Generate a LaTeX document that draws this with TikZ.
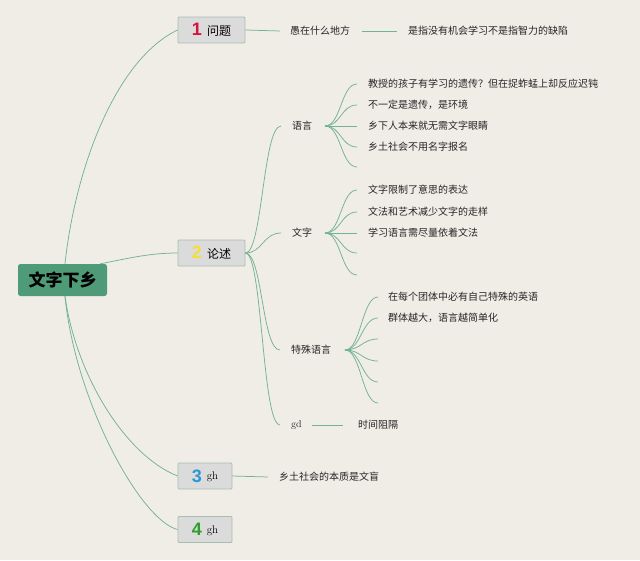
\documentclass[tikz,border=0pt]{standalone}
\usepackage{fontspec}
\newfontfamily\cjk{Noto Sans CJK SC}
\newfontfamily\numf{Liberation Sans}
\definecolor{bg}{HTML}{F0EDE7}
\definecolor{lnk}{HTML}{74B294}
\definecolor{rootg}{HTML}{4F9A77}
\definecolor{boxf}{HTML}{DADBDA}
\definecolor{boxd}{HTML}{A9BEB3}
\definecolor{nA}{HTML}{D4143C}
\definecolor{nB}{HTML}{F3DE3C}
\definecolor{nC}{HTML}{2A98D8}
\definecolor{nD}{HTML}{2C9F2C}
\begin{document}
\begin{tikzpicture}[x=1pt,y=-1pt,
  link/.style={draw=lnk,line width=0.75pt},
  rootbox/.style={fill=rootg,rounded corners=2.5pt,minimum width=89pt,minimum height=32pt,inner sep=0pt,font=\cjk\bfseries\fontsize{17}{20}\selectfont,text=black},
  topicbox/.style={fill=boxf,draw=boxd,line width=0.9pt,rounded corners=1pt,minimum height=26pt,inner sep=0pt,font=\cjk\fontsize{12}{14}\selectfont},
  leaf/.style={anchor=west,inner sep=0pt,font=\cjk\fontsize{10}{12}\selectfont,text=black!85},
  latin/.style={anchor=west,inner sep=0pt,font=\fontsize{10}{12}\selectfont,text=black!85}
]
\fill[bg] (0,0) rectangle (640,560);
\useasboundingbox (0,0) rectangle (640,560);
\newcommand{\numtag}[2]{{\numf\bfseries\fontsize{18}{20}\selectfont\textcolor{#1}{#2}}\hspace{5pt}}
\newcommand{\ghtext}{\raisebox{2.5pt}{\rmfamily\fontsize{11}{13}\selectfont gh}}

% main nodes
\node[rootbox] (root) at (62.5,280) {文字下乡};
\node[topicbox,minimum width=67pt] (b1) at (211.5,30) {\numtag{nA}{1}问题};
\node[topicbox,minimum width=67pt] (b2) at (211.5,253) {\numtag{nB}{2}论述};
\node[topicbox,minimum width=54pt] (b3) at (205,476) {\numtag{nC}{3}\ghtext};
\node[topicbox,minimum width=54pt] (b4) at (205,529.5) {\numtag{nD}{4}\ghtext};

% root connectors
\draw[link] ([xshift=2.5pt]root.north) .. controls (75,170) and (115,60) .. (b1.west);
\draw[link] ([xshift=-7pt]root.north east) .. controls (130,258) and (150,253) .. (b2.west);
\draw[link] ([xshift=2.5pt]root.south) .. controls (76,375) and (125,455) .. (b3.west);
\draw[link] ([xshift=2.5pt]root.south) .. controls (75,400) and (140,520) .. (b4.west);

% branch 1
\node[leaf] (yu) at (290,31) {愚在什么地方};
\node[leaf] (shi) at (408,31) {是指没有机会学习不是指智力的缺陷};
\draw[link] (b1.east) -- ([xshift=-10pt]yu.west);
\draw[link] ([xshift=12pt]yu.east) -- ([xshift=-11pt]shi.west);

% branch 2 children
\node[leaf] (yy) at (292,126) {语言};
\node[leaf] (wz) at (292,233) {文字};
\node[leaf] (ts) at (291,350) {特殊语言};
\node[latin] (gd) at (291,425) {gd};
\foreach \t in {yy,wz,ts,gd}{
  \draw[link] (b2.east) .. controls +(17,0) and +(-18,0) .. ([xshift=-11pt]\t.west);
}

% 语言 leaves
\coordinate (oy) at (325,126);
\node[leaf] (y1) at (368,84) {教授的孩子有学习的遗传？但在捉蚱蜢上却反应迟钝};
\node[leaf] (y2) at (368,105) {不一定是遗传，是环境};
\node[leaf] (y3) at (368,126) {乡下人本来就无需文字眼睛};
\node[leaf] (y4) at (368,147) {乡土社会不用名字报名};
\coordinate (y5) at (357,167);
\foreach \t in {y1,y2,y3,y4}{
  \draw[link] (oy) .. controls +(16,0) and +(-16,0) .. ([xshift=-11pt]\t.west);
}
\draw[link] (oy) .. controls +(16,0) and +(-16,0) .. (y5);

% 文字 leaves
\coordinate (ow) at (325,233);
\node[leaf] (w1) at (368,190) {文字限制了意思的表达};
\node[leaf] (w2) at (368,212) {文法和艺术减少文字的走样};
\node[leaf] (w3) at (368,233) {学习语言需尽量依着文法};
\coordinate (w4) at (357,253);
\coordinate (w5) at (357,275);
\foreach \t in {w1,w2,w3}{
  \draw[link] (ow) .. controls +(16,0) and +(-16,0) .. ([xshift=-11pt]\t.west);
}
\foreach \t in {w4,w5}{
  \draw[link] (ow) .. controls +(16,0) and +(-16,0) .. (\t);
}

% 特殊语言 leaves
\coordinate (ot) at (345,350);
\node[leaf] (t1) at (388,297) {在每个团体中必有自己特殊的英语};
\node[leaf] (t2) at (388,318) {群体越大，语言越简单化};
\coordinate (t3) at (378,339);
\coordinate (t4) at (378,361);
\coordinate (t5) at (378,382);
\coordinate (t6) at (378,403);
\foreach \t in {t1,t2}{
  \draw[link] (ot) .. controls +(16,0) and +(-16,0) .. ([xshift=-10pt]\t.west);
}
\foreach \t in {t3,t4,t5,t6}{
  \draw[link] (ot) .. controls +(16,0) and +(-16,0) .. (\t);
}

% gd leaf
\node[leaf] (sj) at (358,425) {时间阻隔};
\draw[link] ([xshift=10pt]gd.east) -- ([xshift=-15pt]sj.west);

% branch 3 leaf
\node[leaf] (xt) at (279,477) {乡土社会的本质是文盲};
\draw[link] (b3.east) -- ([xshift=-11pt]xt.west);
\end{tikzpicture}
\end{document}
